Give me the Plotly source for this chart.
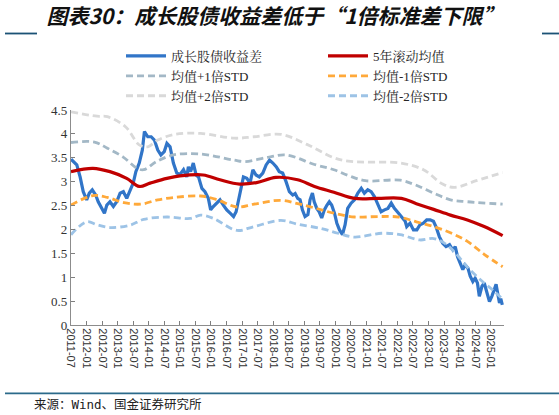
import plotly.graph_objects as go

# ---------------- data ----------------
spread_dates = [
    "2011-07-01","2011-07-28","2011-09-07","2011-10-16","2011-11-22","2012-01-01","2012-02-01","2012-03-07",
    "2012-04-16","2012-05-16","2012-06-19","2012-07-28","2012-08-25","2012-10-01","2012-11-10","2012-12-19",
    "2013-01-28","2013-03-07","2013-04-16","2013-05-25","2013-07-01","2013-08-01","2013-09-10","2013-10-16",
    "2013-11-10","2013-12-19","2014-01-28","2014-03-07","2014-04-16","2014-05-22","2014-07-01","2014-08-01",
    "2014-09-07","2014-10-16","2014-11-25","2015-01-01","2015-02-12","2015-03-22","2015-04-10","2015-05-07",
    "2015-06-07","2015-07-10","2015-08-07","2015-09-16","2015-10-22","2015-12-01","2015-12-28","2016-01-28",
    "2016-03-10","2016-04-16","2016-05-25","2016-07-04","2016-08-13","2016-09-22","2016-10-22","2016-11-19",
    "2016-12-16","2017-01-16","2017-02-25","2017-04-04","2017-05-07","2017-06-13","2017-07-22","2017-09-01",
    "2017-10-10","2017-11-19","2017-12-28","2018-02-07","2018-03-13","2018-04-22","2018-06-01","2018-07-10",
    "2018-08-19","2018-09-16","2018-10-16","2018-11-13","2018-12-10","2019-01-10","2019-02-13","2019-03-10",
    "2019-04-07","2019-04-28","2019-05-28","2019-06-25","2019-07-25","2019-08-25","2019-09-25","2019-10-22",
    "2019-11-19","2019-12-22","2020-01-19","2020-02-19","2020-03-25","2020-04-25","2020-05-25","2020-07-04",
    "2020-08-13","2020-09-22","2020-11-01","2020-12-07","2021-01-16","2021-02-25","2021-04-04","2021-05-13",
    "2021-06-22","2021-08-01","2021-09-10","2021-10-19","2021-11-25","2022-01-13","2022-02-22","2022-04-01",
    "2022-04-19","2022-05-28","2022-07-07","2022-08-16","2022-09-22","2022-11-01","2022-12-10","2023-01-19",
    "2023-02-27","2023-03-28","2023-05-07","2023-06-16","2023-07-25","2023-09-04","2023-10-13","2023-11-10",
    "2023-12-07","2024-01-07","2024-02-07","2024-03-04","2024-04-07","2024-05-04","2024-06-04","2024-07-01",
    "2024-07-28","2024-08-19","2024-09-19","2024-10-16","2024-11-16","2024-12-16","2025-01-13","2025-02-10",
    "2025-03-04","2025-03-22","2025-04-13","2025-04-28","2025-05-16",
]
spread_values = [
    3.47,3.42,3.35,3.10,2.79,2.62,2.76,2.83,
    2.72,2.58,2.48,2.34,2.51,2.58,2.48,2.58,
    2.76,2.79,2.65,2.83,2.97,3.21,3.39,3.66,
    4.05,3.94,3.94,3.87,3.66,3.56,3.63,3.80,
    3.73,3.39,3.18,3.15,3.25,3.10,3.31,3.21,
    3.39,3.14,3.10,2.86,2.79,2.65,2.41,2.48,
    2.55,2.62,2.51,2.41,2.34,2.27,2.37,2.62,
    2.90,3.10,3.07,2.97,3.25,3.14,3.10,3.18,
    3.35,3.45,3.39,3.31,3.21,3.18,3.00,2.79,
    2.72,2.75,2.65,2.62,2.41,2.27,2.31,2.62,
    2.76,2.58,2.44,2.37,2.24,2.41,2.51,2.58,
    2.51,2.34,2.13,1.99,1.89,2.10,2.44,2.55,
    2.62,2.76,2.86,2.76,2.83,2.79,2.69,2.55,
    2.37,2.41,2.44,2.55,2.44,2.34,2.24,2.17,
    2.06,2.13,1.99,1.99,2.10,2.13,2.20,2.20,
    2.17,2.06,1.85,1.71,1.64,1.68,1.57,1.64,
    1.43,1.30,1.16,1.26,1.19,1.02,0.91,0.98,
    0.88,0.60,0.81,0.88,0.67,0.49,0.60,0.74,
    0.85,0.67,0.46,0.55,0.42,
]

mean_dates = ["2011-07-01","2012-03-15","2012-10-01","2013-04-15","2013-09-10","2014-01-15","2014-08-01",
              "2015-01-01","2015-10-01","2016-04-15","2016-12-01","2017-06-20","2018-02-01","2018-10-15",
              "2019-05-01","2019-12-15","2020-08-15","2021-05-15","2022-02-15","2022-08-10","2023-03-01",
              "2023-09-15","2024-04-01","2024-10-15","2025-05-20"]
mean_values = [3.21,3.28,3.21,3.07,2.90,2.97,3.07,3.12,3.14,3.04,2.95,2.98,3.09,3.04,2.90,2.78,2.65,
               2.65,2.65,2.54,2.42,2.30,2.20,2.06,1.87]

p1_dates = ["2011-07-01","2012-04-01","2012-09-01","2013-03-01","2013-08-15","2013-11-01","2014-04-01",
            "2014-10-15","2015-09-01","2016-10-01","2017-02-01","2017-11-01","2018-06-01","2019-05-01",
            "2019-12-15","2020-06-01","2020-12-20","2022-02-01","2022-08-01","2023-03-01","2023-09-15",
            "2024-04-01","2025-05-20"]
p1_values = [3.82,3.83,3.70,3.52,3.28,3.25,3.42,3.56,3.58,3.45,3.42,3.51,3.56,3.36,3.25,3.13,3.02,
             3.03,2.93,2.76,2.62,2.58,2.53]

p2_dates = ["2011-07-01","2012-05-01","2012-09-01","2013-04-01","2013-09-10","2013-12-20","2014-04-15",
            "2014-11-01","2015-09-01","2016-10-01","2017-05-20","2018-04-01","2019-02-01","2019-12-15",
            "2020-06-01","2020-12-20","2022-02-01","2022-11-01","2023-06-15","2023-11-01","2024-07-15",
            "2025-05-20"]
p2_values = [4.46,4.37,4.36,4.15,3.77,3.73,3.87,3.99,4.01,3.91,3.94,3.99,3.78,3.50,3.43,3.41,3.39,
             3.25,2.95,2.88,3.02,3.19]

m1_dates = ["2011-07-01","2012-03-15","2012-09-01","2013-03-15","2013-10-01","2014-04-15","2014-11-01",
            "2015-09-01","2016-03-15","2016-11-01","2017-05-20","2018-04-01","2018-10-15","2019-05-01",
            "2019-12-15","2020-08-15","2021-05-15","2022-01-15","2022-08-10","2023-03-01","2023-09-15",
            "2024-04-01","2024-10-15","2025-05-20"]
m1_values = [2.51,2.71,2.67,2.56,2.53,2.62,2.67,2.70,2.62,2.47,2.53,2.61,2.54,2.45,2.34,2.26,2.27,
             2.26,2.16,2.06,1.93,1.75,1.48,1.22]

m2_dates = ["2011-07-01","2012-01-01","2012-05-01","2012-10-01","2013-05-25","2013-11-01","2014-08-01",
            "2015-05-01","2015-09-01","2016-02-01","2016-11-01","2017-05-20","2018-04-01","2018-10-15",
            "2019-07-20","2020-02-01","2020-08-10","2021-07-01","2022-02-01","2022-09-20","2023-03-01",
            "2023-07-01","2023-11-01","2024-04-07","2024-10-01","2025-02-01","2025-05-20"]
m2_values = [1.89,2.16,2.10,2.04,2.09,2.21,2.26,2.23,2.30,2.23,1.98,2.06,2.19,2.11,2.02,1.92,1.84,
             1.92,1.89,1.78,1.81,1.72,1.53,1.20,0.90,0.72,0.54]

tick_dates = [f"{y}-{m:02d}-01" for y in range(2011, 2026) for m in (1, 7)
              if "2011-07" <= f"{y}-{m:02d}" <= "2025-01"]
tick_labels = [d[:7] for d in tick_dates]

series_names = ["成长股债收益差", "5年滚动均值", "均值+1倍STD", "均值-1倍STD", "均值+2倍STD", "均值-2倍STD"]

# ---------------- layout helpers ----------------
W, H = 559, 415
PL, PR, PT, PB = 71, 504, 110, 325  # plot area in px


def px_x(x):
    return (x - PL) / (PR - PL)


def px_y(y):
    return (PB - y) / (PB - PT)


fig = go.Figure()

fig.add_trace(go.Scatter(x=spread_dates, y=spread_values, name=series_names[0], mode="lines",
                         legend="legend", line=dict(color="#3175C8", width=3.2)))
fig.add_trace(go.Scatter(x=mean_dates, y=mean_values, name=series_names[1], mode="lines",
                         legend="legend2", line=dict(color="#C00000", width=3.2, shape="spline")))
fig.add_trace(go.Scatter(x=p1_dates, y=p1_values, name=series_names[2], mode="lines",
                         legend="legend", line=dict(color="#A3B8C6", width=2.8, dash="7px,4px", shape="spline")))
fig.add_trace(go.Scatter(x=m1_dates, y=m1_values, name=series_names[3], mode="lines",
                         legend="legend2", line=dict(color="#FFA93A", width=2.8, dash="7px,4px", shape="spline")))
fig.add_trace(go.Scatter(x=p2_dates, y=p2_values, name=series_names[4], mode="lines",
                         legend="legend", line=dict(color="#D9D9D9", width=2.8, dash="7px,4px", shape="spline")))
fig.add_trace(go.Scatter(x=m2_dates, y=m2_values, name=series_names[5], mode="lines",
                         legend="legend2", line=dict(color="#9DC3E6", width=2.8, dash="7px,4px", shape="spline")))

serif = "Liberation Serif, Times New Roman, Noto Serif CJK SC, Noto Sans CJK SC, serif"
legend_common = dict(orientation="v", xanchor="left", y=px_y(41), yanchor="top", itemwidth=40,
                     font=dict(family=serif, size=13, color="#262626"),
                     bgcolor="rgba(0,0,0,0)", traceorder="normal", tracegroupgap=0)

fig.update_layout(
    width=W, height=H,
    margin=dict(l=PL, r=W - PR, t=PT, b=H - PB, autoexpand=False),
    paper_bgcolor="white", plot_bgcolor="white",
    showlegend=True,
    legend=dict(x=px_x(121), **legend_common),
    legend2=dict(x=px_x(323), **legend_common),
    title=dict(text="<b><i>图表30：成长股债收益差低于“1倍标准差下限”</i></b>",
               x=275 / W, xanchor="center", xref="container",
               y=1 - 17 / H, yanchor="middle", yref="container",
               font=dict(family="Noto Sans CJK SC", size=21, color="#111111")),
    xaxis=dict(type="date", range=["2011-07-01", "2025-06-05"],
               tickvals=tick_dates, ticktext=tick_labels, tickangle=90,
               ticks="inside", ticklen=4, tickcolor="#7f7f7f",
               showline=True, linecolor="#8c8c8c", linewidth=1.2,
               showgrid=False, zeroline=False,
               tickfont=dict(family="Liberation Sans, Arial, sans-serif", size=11, color="#333333")),
    yaxis=dict(range=[0, 4.5], dtick=0.5, tick0=0,
               ticks="inside", ticklen=4, tickcolor="#7f7f7f",
               showline=True, linecolor="#8c8c8c", linewidth=1.2,
               showgrid=False, zeroline=False,
               tickfont=dict(family=serif, size=13, color="#333333")),
)

line_col = "#1B5275"
fig.add_shape(type="line", xref="paper", yref="paper", x0=px_x(5), x1=px_x(37), y0=px_y(33.5), y1=px_y(33.5),
              line=dict(color=line_col, width=1.8))
fig.add_shape(type="line", xref="paper", yref="paper", x0=px_x(542), x1=px_x(559), y0=px_y(33.5), y1=px_y(33.5),
              line=dict(color=line_col, width=1.8))
fig.add_shape(type="line", xref="paper", yref="paper", x0=px_x(5), x1=px_x(559), y0=px_y(393.3), y1=px_y(393.3),
              line=dict(color="#2B6A8A", width=1.8))

fig.add_annotation(text="来源：Wind、国金证券研究所", xref="paper", yref="paper",
                   x=px_x(32), y=px_y(404), xanchor="left", yanchor="middle", showarrow=False,
                   font=dict(family="DejaVu Sans Mono, Noto Sans CJK SC", size=12.5, color="#222222"))

fig.write_html("out.html", config={"displayModeBar": False},
               post_script="document.body.style.margin='0';document.body.style.overflow='hidden';")
